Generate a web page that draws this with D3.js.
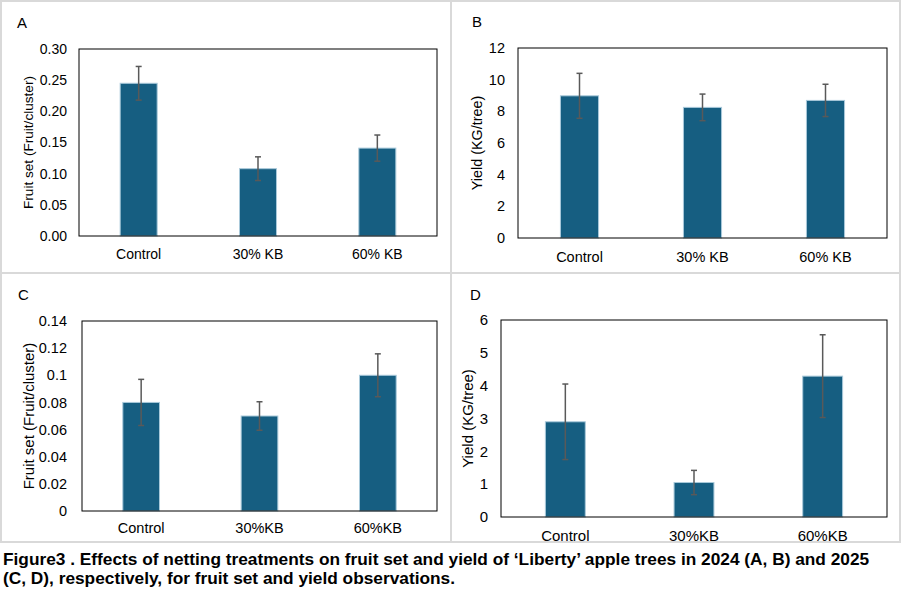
<!DOCTYPE html>
<html>
<head>
<meta charset="utf-8">
<title>Figure 3 netting treatments</title>
<style>
  body { margin: 0; background: white; }
  svg { display: block; font-family: "Liberation Sans", Arial, sans-serif; }
  .frame { fill: none; stroke: #d9d9d9; stroke-width: 2; }
  .plotbox { fill: none; stroke: #000; stroke-width: 1; }
  .bar { fill: #165e81; stroke: #a9c9da; stroke-width: 1; }
  .err { stroke: #595959; stroke-width: 1.5; }
  .caption { font-weight: bold; font-size: 17.3px; fill: #000; }
</style>
</head>
<body>
<div id="chart"></div>
<script src="https://d3js.org/d3.v7.min.js"></script>
<script>
// values
var treatments2024 = ["Control", "30% KB", "60% KB"];
var treatments2025 = ["Control", "30%KB", "60%KB"];

var fruitSet2024 = [0.245, 0.108, 0.141];
var fruitSet2024Err = [0.027, 0.019, 0.021];
var yield2024 = [8.98, 8.25, 8.69];
var yield2024Err = [1.42, 0.84, 1.02];

var fruitSet2025 = [0.080, 0.070, 0.100];
var fruitSet2025Err = [0.017, 0.0105, 0.0158];
var yield2025 = [2.90, 1.05, 4.29];
var yield2025Err = [1.15, 0.37, 1.26];

var ticksA = [0, 0.05, 0.10, 0.15, 0.20, 0.25, 0.30];
var ticksB = [0, 2, 4, 6, 8, 10, 12];
var ticksC = [0, 0.02, 0.04, 0.06, 0.08, 0.1, 0.12, 0.14];
var ticksD = [0, 1, 2, 3, 4, 5, 6];

var svg = d3.select("#chart").append("svg")
    .attr("width", 903)
    .attr("height", 600);

// panel frames
svg.append("rect").attr("class", "frame").attr("x", 1).attr("y", 1).attr("width", 899).attr("height", 541);
svg.append("line").attr("class", "frame").attr("x1", 451).attr("x2", 451).attr("y1", 1).attr("y2", 542);
svg.append("line").attr("class", "frame").attr("x1", 1).attr("x2", 900).attr("y1", 273).attr("y2", 273);

var panels = [
  {letter: "A", lx: 17, ly: 28, cats: treatments2024, vals: fruitSet2024, errs: fruitSet2024Err,
   ticks: ticksA, fmt: d3.format(".2f"), max: 0.30, title: "Fruit set (Fruit/cluster)",
   box: [79, 437, 49, 236], tickX: 67, titleX: 28, fs: 14, tfs: 13.6, xlab: 259},
  {letter: "B", lx: 472, ly: 27, cats: treatments2024, vals: yield2024, errs: yield2024Err,
   ticks: ticksB, fmt: d3.format("d"), max: 12, title: "Yield (KG/tree)",
   box: [518, 887, 48, 238], tickX: 505, titleX: 477, fs: 14.5, tfs: 14.4, xlab: 262},
  {letter: "C", lx: 18, ly: 300, cats: treatments2025, vals: fruitSet2025, errs: fruitSet2025Err,
   ticks: ticksC, fmt: function(d) { return String(+d.toFixed(2)); }, max: 0.14, title: "Fruit set (Fruit/cluster)",
   box: [82, 437, 321, 511], tickX: 67, titleX: 28, fs: 14.5, tfs: 15, xlab: 533},
  {letter: "D", lx: 470, ly: 300, cats: treatments2025, vals: yield2025, errs: yield2025Err,
   ticks: ticksD, fmt: d3.format("d"), max: 6, title: "Yield (KG/tree)",
   box: [501, 887, 320, 517], tickX: 488, titleX: 467, fs: 15, tfs: 15, xlab: 541}
];

panels.forEach(function(p) {
  var g = svg.append("g");
  var x0 = p.box[0], x1 = p.box[1], y0 = p.box[2], y1 = p.box[3];

  var x = d3.scaleBand().domain(p.cats).range([x0, x1]).paddingInner(0.69).paddingOuter(0.345);
  var y = d3.scaleLinear().domain([0, p.max]).range([y1, y0]);

  g.append("text").attr("x", p.lx).attr("y", p.ly)
    .style("font-size", "15px").text(p.letter);

  // y tick labels
  g.selectAll(".ytick").data(p.ticks).join("text")
    .attr("x", p.tickX).attr("y", function(d) { return y(d); })
    .attr("dy", "0.35em").attr("text-anchor", "end")
    .style("font-size", p.fs + "px").style("fill", "#000")
    .text(p.fmt);

  // y axis title
  g.append("text")
    .attr("transform", "translate(" + p.titleX + "," + ((y0 + y1) / 2) + ") rotate(-90)")
    .attr("text-anchor", "middle").attr("dominant-baseline", "central")
    .style("font-size", p.tfs + "px").text(p.title);

  var rows = p.cats.map(function(c, i) { return {cat: c, v: p.vals[i], e: p.errs[i]}; });

  g.selectAll(".bar").data(rows).join("rect")
    .attr("class", "bar")
    .attr("x", function(d) { return x(d.cat); })
    .attr("y", function(d) { return y(d.v); })
    .attr("width", x.bandwidth())
    .attr("height", function(d) { return y1 - y(d.v); });

  // error bars
  var cx = function(d) { return x(d.cat) + x.bandwidth() / 2; };
  g.selectAll(".errv").data(rows).join("line").attr("class", "err")
    .attr("x1", cx).attr("x2", cx)
    .attr("y1", function(d) { return y(d.v + d.e); })
    .attr("y2", function(d) { return y(d.v - d.e); });
  [1, -1].forEach(function(s) {
    g.selectAll(".cap" + s).data(rows).join("line").attr("class", "err")
      .attr("x1", function(d) { return cx(d) - 3; })
      .attr("x2", function(d) { return cx(d) + 3; })
      .attr("y1", function(d) { return y(d.v + s * d.e); })
      .attr("y2", function(d) { return y(d.v + s * d.e); });
  });

  g.append("rect").attr("class", "plotbox")
    .attr("x", x0).attr("y", y0).attr("width", x1 - x0).attr("height", y1 - y0);

  // category labels
  g.selectAll(".xlab").data(p.cats).join("text")
    .attr("x", function(d) { return x(d) + x.bandwidth() / 2; })
    .attr("y", p.xlab).attr("text-anchor", "middle")
    .style("font-size", p.fs + "px").text(function(d) { return d; });
});

svg.append("text").attr("class", "caption").attr("x", 3).attr("y", 565)
  .text("Figure3 . Effects of netting treatments on fruit set and yield of \u2018Liberty\u2019 apple trees in 2024 (A, B) and 2025");
svg.append("text").attr("class", "caption").attr("x", 3).attr("y", 584)
  .text("(C, D), respectively, for fruit set and yield observations.");
</script>
</body>
</html>
